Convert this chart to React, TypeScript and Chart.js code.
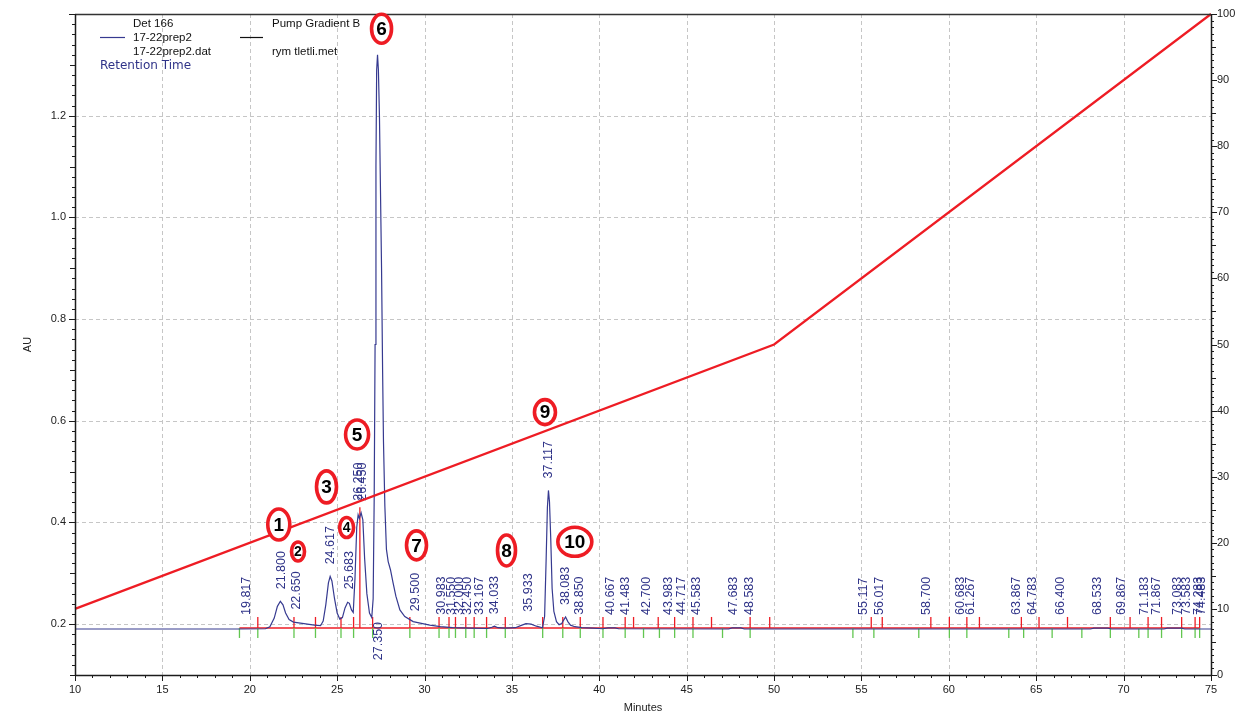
import React, { useEffect, useRef } from "react";
import { Chart, registerables } from "chart.js";
Chart.register(...registerables);

// ---------------- data ----------------
// Detector trace (Det 166): retention time (min) and absorbance (AU)
const TRACE_MIN = [
  10.0, 19.4, 20.9, 21.15, 21.4, 21.58, 21.75, 21.9, 22.05, 22.25, 22.5, 22.9, 23.3, 23.7, 24.05,
  24.2, 24.35, 24.5, 24.6, 24.7, 24.85, 25.0, 25.15, 25.3, 25.45, 25.6, 25.7, 25.82, 25.92,
  26.02, 26.12, 26.2, 26.27, 26.37, 26.47, 26.57, 26.7, 26.85, 26.98, 27.06, 27.12, 27.17,
  27.22, 27.26, 27.31, 27.36, 27.42, 27.48, 27.54, 27.6, 27.65, 27.73, 27.82, 27.92, 28.05,
  28.2, 28.36, 28.59, 28.87, 29.35, 29.75, 30.3, 30.9, 31.6, 32.6, 33.6, 33.85, 34.0, 34.2,
  34.6, 35.2, 35.5, 35.8, 36.1, 36.4, 36.75, 36.87, 36.96, 37.03, 37.09, 37.15, 37.22, 37.3,
  37.4, 37.55, 37.7, 37.85, 37.96, 38.07, 38.2, 38.35, 38.6, 39.0, 39.6, 40.2, 40.5, 40.9,
  41.1, 47.4, 47.6, 48.1, 48.3, 68.1, 68.3, 69.1, 69.3, 72.3, 72.5, 73.3, 73.5, 75.0,
];
const TRACE_AU = [
  0.1905, 0.1905, 0.191, 0.195, 0.212, 0.235, 0.245, 0.238, 0.222, 0.209, 0.204, 0.202, 0.2, 0.198, 0.197,
  0.206, 0.238, 0.281, 0.294, 0.285, 0.25, 0.222, 0.21, 0.213, 0.232, 0.243, 0.241, 0.228, 0.223,
  0.29, 0.39, 0.415, 0.408, 0.419, 0.405, 0.33, 0.26, 0.222, 0.213, 0.25, 0.45, 0.75,
  1.1, 1.29, 1.32, 1.29, 1.2, 1.05, 0.9, 0.7, 0.56, 0.432, 0.347, 0.323, 0.307,
  0.281, 0.255, 0.228, 0.215, 0.205, 0.202, 0.198, 0.195, 0.193, 0.192, 0.1915, 0.194, 0.196, 0.193,
  0.192, 0.193, 0.197, 0.201, 0.2, 0.196, 0.193, 0.215, 0.33, 0.43, 0.463, 0.44, 0.37, 0.27,
  0.225, 0.205, 0.199, 0.201, 0.208, 0.214, 0.205, 0.198, 0.195, 0.193, 0.192, 0.191, 0.1925, 0.1925,
  0.191, 0.1905, 0.1925, 0.1925, 0.1905, 0.1905, 0.192, 0.192, 0.1905, 0.1905, 0.192, 0.192, 0.1905, 0.1905,
];

// Pump Gradient B (%B)
const GRADIENT_MIN = [10, 50, 75];
const GRADIENT_PCT = [10, 50, 100];

// Peak retention-time labels and the trace height at each apex
const PEAK_LABELS = [
  "19.817", "21.800", "22.650", "24.617", "25.683", "26.250", "26.450", "27.350", "29.500",
  "30.983", "31.550", "32.000", "32.450", "33.167", "34.033", "35.933", "37.117", "38.083",
  "38.850", "40.667", "41.483", "42.700", "43.983", "44.717", "45.583", "47.683", "48.583",
  "55.117", "56.017", "58.700", "60.683", "61.267", "63.867", "64.783", "66.400", "68.533",
  "69.867", "71.183", "71.867", "73.083", "73.583", "74.283", "74.483",
];
const PEAK_APEX_AU = [
  0.1905, 0.245, 0.205, 0.294, 0.245, 0.419, 0.419, 1.32, 0.202,
  0.195, 0.194, 0.193, 0.192, 0.1915, 0.196, 0.201, 0.463, 0.214,
  0.195, 0.1925, 0.191, 0.191, 0.191, 0.191, 0.191, 0.1925, 0.1925,
  0.1905, 0.1905, 0.1905, 0.1905, 0.1905, 0.1905, 0.1905, 0.1905, 0.192,
  0.1905, 0.1905, 0.1905, 0.192, 0.192, 0.1905, 0.1905,
];

// Integration events: peak start (green) and peak end (red) marks, minutes
const START_MARKS = [
  19.41, 20.46, 22.53, 23.76, 25.22, 25.94, 27.03, 29.16, 30.83, 31.4, 31.77, 32.36, 32.84,
  33.55, 34.62, 36.76, 37.91, 38.91, 40.21, 41.48, 42.53, 43.44, 44.31, 45.36, 47.05, 48.63,
  54.51, 55.71, 58.28, 60.03, 61.03, 63.43, 64.28, 65.91, 67.61, 69.24, 70.87, 71.4, 72.17,
  73.32, 74.09, 74.35,
];
const END_MARKS = [
  20.46, 22.53, 23.76, 25.22, 25.94, 27.03, 29.16, 30.83, 31.4, 31.77, 32.36, 32.84, 33.55,
  34.62, 36.76, 37.91, 38.91, 40.21, 41.48, 41.96, 43.37, 44.31, 45.36, 46.42, 48.63, 49.75,
  55.56, 56.19, 58.97, 60.03, 61.03, 61.75, 64.15, 65.16, 66.79, 69.24, 70.37, 71.4, 72.17,
  73.32, 74.09, 74.35,
];
const TALL_END_MIN = [26.3];
const TALL_END_TOP_AU = [0.43];
const INTEGRATION_BASELINE_AU = 0.1925;

// Circled peak numbers (annotation centres, minutes / AU)
const CIRCLE_TEXT = ["1", "2", "3", "4", "5", "6", "7", "8", "9", "10"];
const CIRCLE_MIN = [21.66, 22.76, 24.39, 25.54, 26.14, 27.54, 29.54, 34.69, 36.89, 38.6];
const CIRCLE_AU = [0.396, 0.343, 0.47, 0.39, 0.573, 1.371, 0.355, 0.345, 0.617, 0.362];

// Axis ticks
const X_LABEL_TICKS = [10, 15, 20, 25, 30, 35, 40, 45, 50, 55, 60, 65, 70, 75];
const X_GRID = [15, 20, 25, 30, 35, 40, 45, 50, 55, 60, 65, 70];
const LEFT_LABEL_TICKS = [0.2, 0.4, 0.6, 0.8, 1.0, 1.2];
const RIGHT_LABEL_TICKS = [0, 10, 20, 30, 40, 50, 60, 70, 80, 90, 100];

// ---------------- styles ----------------
const FONT = '"Liberation Sans", Arial, sans-serif';
const TRACE_BLUE = "#363a90";
const LABEL_BLUE = "#2f3388";
const RED = "#ee1c24";
const GREEN = "#62c650";
const AXIS = "#1c1c1c";
const CIRCLE_SIZE: Record<string, [number, number, number]> = {
  "1": [26, 35, 19], "2": [17, 23, 14], "3": [24, 36, 19], "4": [18, 24, 14], "5": [27, 33, 19],
  "6": [24, 33, 19], "7": [24, 33, 19], "8": [22, 35, 19], "9": [25, 29, 19], "10": [38, 33, 19],
};

function line(ctx: CanvasRenderingContext2D, x1: number, y1: number, x2: number, y2: number) {
  ctx.beginPath();
  ctx.moveTo(x1, y1);
  ctx.lineTo(x2, y2);
  ctx.stroke();
}

const overlay = {
  id: "chromOverlay",
  beforeDatasetsDraw(chart: any) {
    const { ctx, chartArea: ca, scales } = chart;
    const x = scales.x, y = scales.y;
    ctx.save();
    // dashed grid
    ctx.setLineDash([4, 3]);
    ctx.strokeStyle = "#c6c6c6";
    ctx.lineWidth = 1;
    for (const v of X_GRID) {
      const p = Math.round(x.getPixelForValue(v)) + 0.5;
      line(ctx, p, ca.top, p, ca.bottom);
    }
    for (const v of LEFT_LABEL_TICKS) {
      const p = Math.round(y.getPixelForValue(v)) + 0.5;
      line(ctx, ca.left, p, ca.right, p);
    }
    ctx.setLineDash([]);

    // integration baseline + event marks
    const by = y.getPixelForValue(INTEGRATION_BASELINE_AU);
    ctx.strokeStyle = RED;
    ctx.lineWidth = 1.5;
    line(ctx, x.getPixelForValue(START_MARKS[0]), by, x.getPixelForValue(END_MARKS[END_MARKS.length - 1]), by);
    ctx.lineWidth = 1.3;
    for (const t of END_MARKS) {
      const p = x.getPixelForValue(t);
      line(ctx, p, by, p, by - 11);
    }
    TALL_END_MIN.forEach((t, i) => {
      const p = x.getPixelForValue(t);
      line(ctx, p, by, p, y.getPixelForValue(TALL_END_TOP_AU[i]));
    });
    ctx.strokeStyle = GREEN;
    for (const t of START_MARKS) {
      const p = x.getPixelForValue(t);
      line(ctx, p, by, p, by + 10);
    }

    // retention time labels
    ctx.fillStyle = LABEL_BLUE;
    ctx.font = `12.5px ${FONT}`;
    ctx.textBaseline = "middle";
    PEAK_LABELS.forEach((lab, i) => {
      const rt = parseFloat(lab);
      const px = x.getPixelForValue(rt);
      const apex = PEAK_APEX_AU[i];
      ctx.save();
      if (apex > 1.0) {
        ctx.translate(px, by - 6);
        ctx.rotate(-Math.PI / 2);
        ctx.textAlign = "right";
      } else {
        const base = Math.min(y.getPixelForValue(apex) - 12, 615);
        ctx.translate(px, base);
        ctx.rotate(-Math.PI / 2);
        ctx.textAlign = "left";
      }
      ctx.fillText(lab, 0, 0);
      ctx.restore();
    });
    ctx.restore();
  },
  afterDraw(chart: any) {
    const { ctx, chartArea: ca, scales } = chart;
    const x = scales.x, y = scales.y, y1 = scales.y1;
    ctx.save();
    // frame
    ctx.strokeStyle = "#333";
    ctx.lineWidth = 1.3;
    line(ctx, ca.left, ca.top + 0.5, ca.right, ca.top + 0.5);
    ctx.strokeStyle = AXIS;
    ctx.lineWidth = 1.5;
    line(ctx, ca.left + 0.5, ca.top, ca.left + 0.5, ca.bottom + 1);
    line(ctx, ca.left, ca.bottom + 0.5, ca.right, ca.bottom + 0.5);
    line(ctx, ca.right + 0.5, ca.top, ca.right + 0.5, ca.bottom + 1);

    // ticks
    ctx.lineWidth = 1;
    for (let t = 10; t <= 75; t++) {
      const p = Math.round(x.getPixelForValue(t)) + 0.5;
      const len = t % 5 === 0 ? 6 : 3;
      line(ctx, p, ca.bottom, p, ca.bottom + len);
    }
    for (let i = 5; i <= 70; i++) {
      const p = Math.round(y.getPixelForValue(i * 0.02)) + 0.5;
      const len = i % 10 === 0 ? 6 : i % 5 === 0 ? 5 : 3;
      line(ctx, ca.left, p, ca.left - len, p);
    }
    for (let i = 0; i <= 100; i++) {
      const p = Math.round(y1.getPixelForValue(i)) + 0.5;
      const len = i % 10 === 0 ? 6 : i % 5 === 0 ? 5 : 3;
      line(ctx, ca.right, p, ca.right + len, p);
    }

    // tick labels
    ctx.fillStyle = "#222";
    ctx.font = `11px ${FONT}`;
    ctx.textBaseline = "middle";
    ctx.textAlign = "center";
    for (const v of X_LABEL_TICKS) ctx.fillText(String(v), x.getPixelForValue(v), ca.bottom + 15);
    ctx.textAlign = "right";
    for (const v of LEFT_LABEL_TICKS) ctx.fillText(v.toFixed(1), ca.left - 9, y.getPixelForValue(v));
    ctx.textAlign = "left";
    for (const v of RIGHT_LABEL_TICKS) ctx.fillText(String(v), ca.right + 6, y1.getPixelForValue(v));

    // axis titles
    ctx.textAlign = "center";
    ctx.fillText("Minutes", (ca.left + ca.right) / 2, 708);
    ctx.save();
    ctx.translate(28, (ca.top + ca.bottom) / 2);
    ctx.rotate(-Math.PI / 2);
    ctx.fillText("AU", 0, 0);
    ctx.restore();

    // legend
    ctx.textAlign = "left";
    ctx.font = `11.5px ${FONT}`;
    ctx.fillStyle = "#111";
    ctx.fillText("Det 166", 133, 24);
    ctx.fillText("17-22prep2", 133, 37.5);
    ctx.fillText("17-22prep2.dat", 133, 51.5);
    ctx.fillText("Pump Gradient B", 272, 24);
    ctx.fillText("rym tletli.met", 272, 51.5);
    ctx.strokeStyle = TRACE_BLUE;
    ctx.lineWidth = 1.2;
    line(ctx, 100, 37.5, 125, 37.5);
    ctx.strokeStyle = "#111";
    line(ctx, 240, 37.5, 263, 37.5);
    ctx.fillStyle = LABEL_BLUE;
    ctx.font = `12px "DejaVu Sans", ${FONT}`;
    ctx.fillText("Retention Time", 100, 66);

    // circled peak numbers
    CIRCLE_TEXT.forEach((txt, i) => {
      const [w, h, fs] = CIRCLE_SIZE[txt];
      const cx = x.getPixelForValue(CIRCLE_MIN[i]);
      const cy = y.getPixelForValue(CIRCLE_AU[i]);
      ctx.beginPath();
      ctx.ellipse(cx, cy, w / 2 - 2, h / 2 - 2, 0, 0, Math.PI * 2);
      ctx.fillStyle = "#fff";
      ctx.fill();
      ctx.lineWidth = 3.6;
      ctx.strokeStyle = RED;
      ctx.stroke();
      ctx.fillStyle = "#000";
      ctx.font = `bold ${fs}px ${FONT}`;
      ctx.textAlign = "center";
      ctx.textBaseline = "middle";
      ctx.fillText(txt, cx, cy + 1);
    });
    ctx.restore();
  },
};

export default function App() {
  const ref = useRef<HTMLCanvasElement>(null);
  useEffect(() => {
    if (!ref.current) return;
    const trace = TRACE_MIN.map((t, i) => ({ x: t, y: TRACE_AU[i] }));
    const gradient = GRADIENT_MIN.map((t, i) => ({ x: t, y: GRADIENT_PCT[i] }));
    const chart = new Chart(ref.current, {
      type: "line",
      data: {
        datasets: [
          {
            label: "Pump Gradient B",
            data: gradient,
            yAxisID: "y1",
            borderColor: RED,
            borderWidth: 2.2,
            pointRadius: 0,
            tension: 0,
            clip: 4,
          } as any,
          {
            label: "17-22prep2",
            data: trace,
            yAxisID: "y",
            borderColor: TRACE_BLUE,
            borderWidth: 1.2,
            pointRadius: 0,
            tension: 0,
          } as any,
        ],
      },
      options: {
        animation: false,
        responsive: false,
        devicePixelRatio: 1,
        layout: { padding: { left: 75, right: 30, top: 14, bottom: 40 } },
        plugins: { legend: { display: false }, tooltip: { enabled: false } },
        scales: {
          x: { type: "linear", min: 10, max: 75, display: false },
          y: { type: "linear", min: 0.1, max: 1.4, display: false },
          y1: { type: "linear", min: 0, max: 100, display: false },
        },
      },
      plugins: [overlay as any],
    });
    return () => chart.destroy();
  }, []);
  return (
    <div style={{ position: "fixed", left: 0, top: 0, width: 1241, height: 715, background: "#fff" }}>
      <canvas ref={ref} width={1241} height={715} style={{ width: 1241, height: 715, display: "block" }} />
    </div>
  );
}
